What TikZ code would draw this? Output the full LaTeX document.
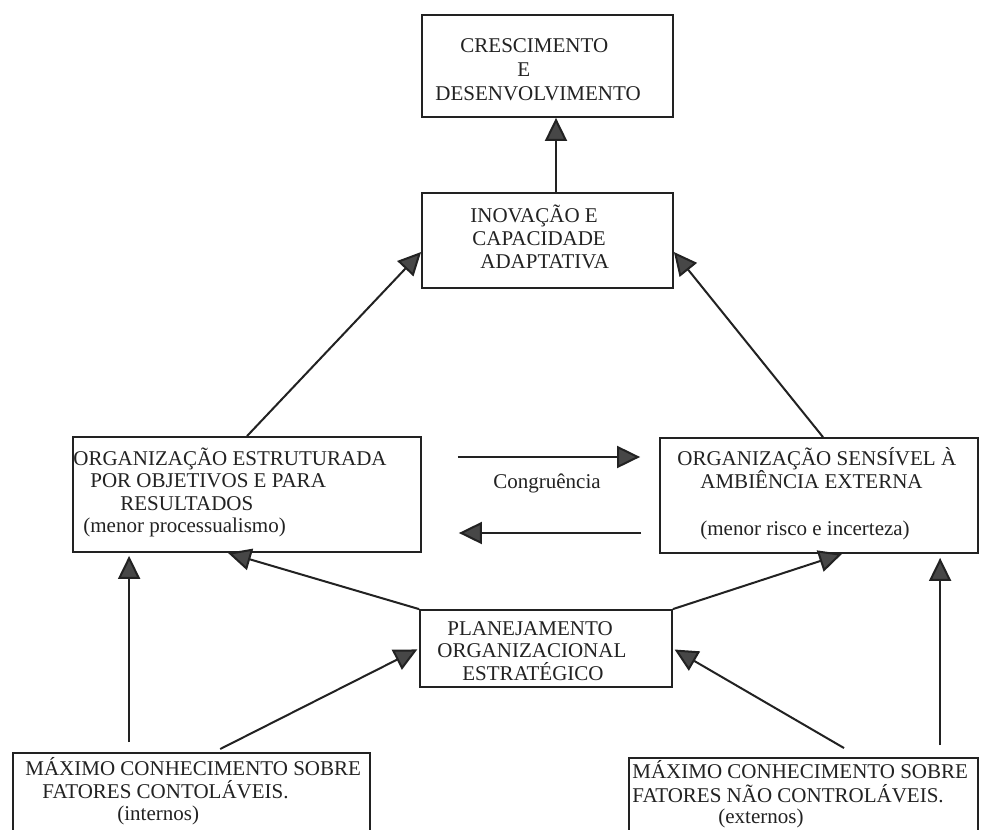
\documentclass[tikz,border=0pt]{standalone}
\usepackage{fontspec}
\setmainfont{Liberation Serif}
\usetikzlibrary{arrows.meta,calc}
\definecolor{ink}{HTML}{222222}
\definecolor{headfill}{HTML}{474747}
\newcommand{\mytl}[4]{\node[lbl] (#1) at (#2,#3) {#4};}
\begin{document}
\begin{tikzpicture}[x=0.5pt,y=-0.5pt,
  box/.style={draw=ink, line width=0.9pt, rectangle, inner sep=0pt},
  lbl/.style={anchor=base west, inner sep=0pt, text=ink,
    font=\fontsize{10.5}{12}\selectfont},
  arr/.style={draw=ink, line width=1pt,
    -{Triangle[length=11.5pt,width=11pt,fill=headfill]}}]
\useasboundingbox (0,0) rectangle (989,829);
\clip (0,0) rectangle (989,829);
\fill[white] (0,0) rectangle (989,829);

% boxes
\node[box, minimum width=125.5pt, minimum height=51pt] (crec) at (547.5,66) {};
\node[box, minimum width=125.5pt, minimum height=47.5pt] (inov) at (547.5,240.5) {};
\node[box, minimum width=174pt, minimum height=57.5pt] (org) at (247,494.5) {};
\node[box, minimum width=159pt, minimum height=57.5pt] (sens) at (819,495.5) {};
\node[box, minimum width=126pt, minimum height=38.5pt] (plan) at (546,648.5) {};
\node[box, minimum width=178.5pt, minimum height=60pt] (maxL) at (191.5,813) {};
\node[box, minimum width=174.5pt, minimum height=60pt] (maxR) at (803.5,818) {};

% texts
\mytl{c1}{460}{53}{CRESCIMENTO}
\mytl{c2}{517}{76}{E}
\mytl{c3}{435}{100}{DESENVOLVIMENTO}

\mytl{i1}{470}{222}{INOVAÇÃO E}
\mytl{i2}{472}{245}{CAPACIDADE}
\mytl{i3}{480}{268}{ADAPTATIVA}

\mytl{o1}{73}{465}{ORGANIZAÇÃO ESTRUTURADA}
\mytl{o2}{90}{487}{POR OBJETIVOS E PARA}
\mytl{o3}{120}{510}{RESULTADOS}
\mytl{o4}{83}{532}{(menor processualismo)}

\mytl{s1}{677}{465}{ORGANIZAÇÃO SENSÍVEL À}
\mytl{s2}{700}{488}{AMBIÊNCIA EXTERNA}
\mytl{s3}{700}{535}{(menor risco e incerteza)}

\mytl{cg}{493}{488}{Congruência}

\mytl{p1}{447}{635}{PLANEJAMENTO}
\mytl{p2}{437}{657}{ORGANIZACIONAL}
\mytl{p3}{462}{680}{ESTRATÉGICO}

\mytl{l1}{25}{775}{MÁXIMO CONHECIMENTO SOBRE}
\mytl{l2}{42}{798}{FATORES CONTOLÁVEIS.}
\mytl{l3}{117}{820}{(internos)}

\mytl{r1}{632}{778}{MÁXIMO CONHECIMENTO SOBRE}
\mytl{r2}{632}{802}{FATORES NÃO CONTROLÁVEIS.}
\mytl{r3}{718}{823}{(externos)}

% connectors
\draw[arr] ([xshift=4.25pt]inov.north) -- ([xshift=4.25pt]crec.south);
\draw[arr] (org.north) -- ([yshift=-5.75pt]inov.west);
\draw[arr] ([xshift=2pt]sens.north) -- ([yshift=-5.75pt]inov.east);

\coordinate (cgtop) at (0,457);
\coordinate (cgbot) at (0,533);
\draw[arr, shorten <=18pt, shorten >=9.5pt] (org.east |- cgtop) -- (sens.west |- cgtop);
\draw[arr, shorten <=9pt, shorten >=18.5pt] (sens.west |- cgbot) -- (org.east |- cgbot);

\draw[arr] (plan.north west) -- ([xshift=-9.5pt]org.south);
\draw[arr] (plan.north east) -- ([xshift=11.5pt]sens.south);

\draw[arr, shorten <=5pt, shorten >=1.5pt] ([xshift=58.5pt]maxL.north west) -- ([xshift=28.5pt]org.south west);
\draw[arr, shorten <=6pt, shorten >=2pt] ([xshift=156pt]maxR.north west) -- ([xshift=140.5pt]sens.south west);

\draw[arr, shorten <=3.4pt, shorten >=1pt] ([xshift=101pt]maxL.north west) -- (plan.west);
\draw[arr, shorten <=9pt, shorten >=1pt] ([xshift=115.75pt]maxR.north west) -- (plan.east);
\end{tikzpicture}
\end{document}
